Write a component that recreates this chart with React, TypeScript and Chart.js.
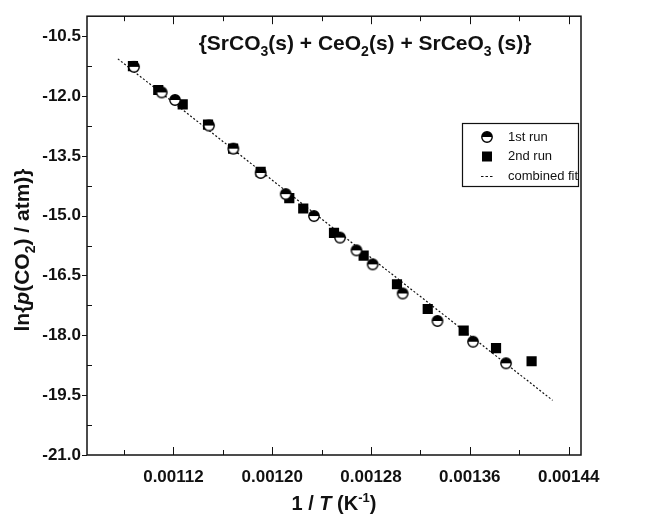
import React, { useEffect, useRef } from 'react';
import { Chart, registerables } from 'chart.js';

Chart.register(...registerables);

// ---- data ----
const run1X = [0.0010881, 0.0011105, 0.0011213, 0.0011488, 0.0011685, 0.0011906, 0.0012109, 0.0012338, 0.0012549, 0.0012682, 0.0012813, 0.0013056, 0.0013338, 0.0013626, 0.0013893];
const run1Y = [-11.27, -11.91, -12.10, -12.74, -13.32, -13.93, -14.46, -15.01, -15.55, -15.87, -16.22, -16.95, -17.64, -18.16, -18.70];
const run2X = [0.0010872, 0.0011077, 0.0011275, 0.001148, 0.0011683, 0.0011906, 0.0012138, 0.0012251, 0.00125, 0.001274, 0.001301, 0.0013259, 0.001355, 0.0013812, 0.00141];
const run2Y = [-11.25, -11.85, -12.21, -12.72, -13.32, -13.90, -14.56, -14.82, -15.43, -16.00, -16.72, -17.34, -17.88, -18.32, -18.65];
const fitX = [0.001075, 0.001427];
const fitY = [-11.07, -19.63];

const xTicks = [0.00112, 0.0012, 0.00128, 0.00136, 0.00144];
const xMinorTicks = [0.00108, 0.00116, 0.00124, 0.00132, 0.0014];
const yTicks = [-21, -19.5, -18, -16.5, -15, -13.5, -12, -10.5];
const yMinorTicks = [-20.25, -18.75, -17.25, -15.75, -14.25, -12.75, -11.25];
const seriesLabels = ['1st run', '2nd run', 'combined fit'];

const FONT = '"Liberation Sans", Arial, Helvetica, sans-serif';

type Seg = { t: string; sub?: boolean; sup?: boolean; it?: boolean };

const titleSegs: Seg[] = [
  { t: '{SrCO' }, { t: '3', sub: true }, { t: '(s) + CeO' }, { t: '2', sub: true },
  { t: '(s) + SrCeO' }, { t: '3', sub: true }, { t: ' (s)}' },
];
const yTitleSegs: Seg[] = [
  { t: 'ln{' }, { t: 'p', it: true }, { t: '(CO' }, { t: '2', sub: true }, { t: ') / atm)}' },
];
const xTitleSegs: Seg[] = [
  { t: '1 / ' }, { t: 'T', it: true }, { t: ' (K' }, { t: '-1', sup: true }, { t: ')' },
];

function segFont(size: number, s: Seg) {
  const sz = s.sub || s.sup ? Math.round(size * 0.65) : size;
  return `${s.it ? 'italic ' : ''}bold ${sz}px ${FONT}`;
}
function measureSegs(ctx: CanvasRenderingContext2D, segs: Seg[], size: number) {
  let w = 0;
  for (const s of segs) {
    ctx.font = segFont(size, s);
    w += ctx.measureText(s.t).width;
  }
  return w;
}
function drawSegsCentered(ctx: CanvasRenderingContext2D, segs: Seg[], cx: number, baseline: number, size: number) {
  const w = measureSegs(ctx, segs, size);
  let x = cx - w / 2;
  ctx.textAlign = 'left';
  ctx.textBaseline = 'alphabetic';
  for (const s of segs) {
    ctx.font = segFont(size, s);
    let y = baseline;
    if (s.sub) y += size * 0.3;
    if (s.sup) y -= size * 0.4;
    ctx.fillText(s.t, x, y);
    x += ctx.measureText(s.t).width;
  }
}

function makeHalfCircle(r: number) {
  const size = Math.ceil(r * 2 + 3);
  const c = document.createElement('canvas');
  c.width = size;
  c.height = size;
  const g = c.getContext('2d')!;
  const cx = size / 2, cy = size / 2;
  g.fillStyle = '#fff';
  g.beginPath(); g.arc(cx, cy, r, 0, Math.PI * 2); g.fill();
  g.fillStyle = '#000';
  g.beginPath(); g.arc(cx, cy, r, Math.PI, 2 * Math.PI); g.closePath(); g.fill();
  g.strokeStyle = '#000';
  g.lineWidth = 1.4;
  g.beginPath(); g.arc(cx, cy, r, 0, Math.PI * 2); g.stroke();
  return c;
}

export default function App() {
  const ref = useRef<HTMLCanvasElement | null>(null);

  useEffect(() => {
    if (!ref.current) return;
    const halfCircle = makeHalfCircle(5.2);

    const decor = {
      id: 'decor',
      afterDraw(chart: any) {
        const { ctx, chartArea: a, scales } = chart;
        const xs = scales.x, ys = scales.y;
        ctx.save();
        ctx.strokeStyle = '#111';
        ctx.fillStyle = '#111';
        // frame
        ctx.lineWidth = 1.5;
        ctx.strokeRect(a.left, a.top, a.right - a.left, a.bottom - a.top);
        ctx.lineWidth = 1;
        ctx.beginPath();
        for (const v of xTicks) {
          const p = Math.round(xs.getPixelForValue(v)) + 0.5;
          ctx.moveTo(p, a.bottom); ctx.lineTo(p, a.bottom - 8);
          ctx.moveTo(p, a.top); ctx.lineTo(p, a.top + 8);
        }
        for (const v of xMinorTicks) {
          const p = Math.round(xs.getPixelForValue(v)) + 0.5;
          ctx.moveTo(p, a.bottom); ctx.lineTo(p, a.bottom - 5);
          ctx.moveTo(p, a.top); ctx.lineTo(p, a.top + 5);
        }
        for (const v of yTicks) {
          const p = Math.round(ys.getPixelForValue(v)) + 0.5;
          ctx.moveTo(a.left - 5, p); ctx.lineTo(a.left, p);
        }
        for (const v of yMinorTicks) {
          const p = Math.round(ys.getPixelForValue(v)) + 0.5;
          ctx.moveTo(a.left, p); ctx.lineTo(a.left + 5, p);
        }
        ctx.stroke();

        // title
        drawSegsCentered(ctx, titleSegs, 365, 50, 21);
        // x title
        drawSegsCentered(ctx, xTitleSegs, (a.left + a.right) / 2, 510, 20);
        // y title
        ctx.save();
        ctx.translate(29, 250);
        ctx.rotate(-Math.PI / 2);
        drawSegsCentered(ctx, yTitleSegs, 0, 0, 21);
        ctx.restore();

        // legend
        const lx = 462, ly = 123, lw = 116, lh = 63;
        ctx.fillStyle = '#fff';
        ctx.fillRect(lx, ly, lw, lh);
        ctx.lineWidth = 1.2;
        ctx.strokeStyle = '#111';
        ctx.strokeRect(lx + 0.5, ly + 0.5, lw, lh);
        const rows = [137, 156.5, 176];
        const ix = 487, tx = 508;
        ctx.drawImage(halfCircle, ix - halfCircle.width / 2, rows[0] - halfCircle.height / 2);
        ctx.fillStyle = '#000';
        ctx.fillRect(ix - 5, rows[1] - 5, 10, 10);
        ctx.setLineDash([2.5, 2]);
        ctx.lineWidth = 1;
        ctx.beginPath();
        ctx.moveTo(ix - 6, rows[2] + 0.5); ctx.lineTo(ix + 6, rows[2] + 0.5);
        ctx.stroke();
        ctx.setLineDash([]);
        ctx.font = `13px ${FONT}`;
        ctx.textAlign = 'left';
        ctx.textBaseline = 'middle';
        ctx.fillStyle = '#111';
        seriesLabels.forEach((s, i) => ctx.fillText(s, tx, rows[i]));
        ctx.restore();
      },
    };

    const chart = new Chart(ref.current, {
      type: 'scatter',
      data: {
        datasets: [
          {
            label: seriesLabels[0],
            data: run1X.map((x, i) => ({ x, y: run1Y[i] })),
            pointStyle: halfCircle as any,
            pointRadius: 5.2,
            pointHoverRadius: 5.2,
          },
          {
            label: seriesLabels[1],
            data: run2X.map((x, i) => ({ x, y: run2Y[i] })),
            pointStyle: 'rect',
            pointRadius: 7.2,
            pointHoverRadius: 7.2,
            backgroundColor: '#000',
            borderColor: '#000',
            borderWidth: 0,
          },
          {
            label: seriesLabels[2],
            type: 'line' as any,
            data: fitX.map((x, i) => ({ x, y: fitY[i] })),
            showLine: true,
            pointRadius: 0,
            borderColor: '#111',
            borderWidth: 1.2,
            borderDash: [2, 2],
            fill: false,
          },
        ],
      },
      options: {
        responsive: false,
        animation: false,
        events: [],
        layout: { padding: { left: 0, top: 14, right: 79, bottom: 0 } },
        plugins: { legend: { display: false }, tooltip: { enabled: false }, title: { display: false } },
        scales: {
          x: {
            type: 'linear',
            min: 0.00105,
            max: 0.00145,
            grid: { display: false, drawTicks: false },
            border: { display: false },
            afterBuildTicks: (s: any) => { s.ticks = xTicks.map((v) => ({ value: v })); },
            afterFit: (s: any) => { s.height = 60; },
            ticks: {
              padding: 12,
              color: '#111',
              font: { family: FONT, size: 17, weight: 'bold' },
              callback: (v: any) => Number(v).toFixed(5),
            },
          },
          y: {
            type: 'linear',
            min: -21,
            max: -10,
            grid: { display: false, drawTicks: false },
            border: { display: false },
            afterBuildTicks: (s: any) => { s.ticks = yTicks.map((v) => ({ value: v })); },
            afterFit: (s: any) => { s.width = 87; },
            ticks: {
              padding: 6,
              color: '#111',
              font: { family: FONT, size: 17, weight: 'bold' },
              callback: (v: any) => Number(v).toFixed(1),
            },
          },
        },
      },
      plugins: [decor],
    });
    return () => chart.destroy();
  }, []);

  return (
    <div style={{ position: 'fixed', left: 0, top: 0, width: 660, height: 515, background: '#fff' }}>
      <canvas ref={ref} width={660} height={515} style={{ display: 'block', width: 660, height: 515 }} />
    </div>
  );
}
